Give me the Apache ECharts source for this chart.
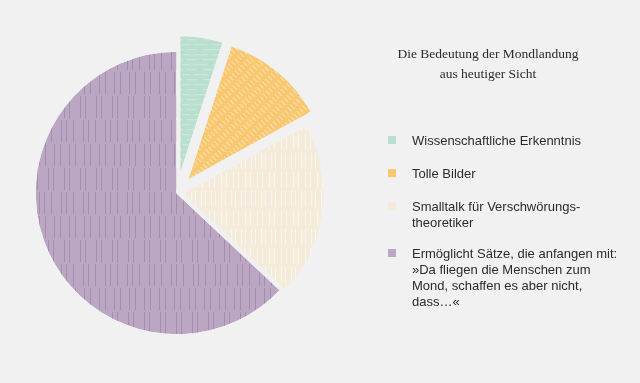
<!DOCTYPE html>
<html>
<head>
<meta charset="utf-8">
<script src="https://cdn.jsdelivr.net/npm/echarts@6/dist/echarts.min.js"></script>
<style>
html,body{margin:0;padding:0;background:#f1f1f1;}
#c{width:640px;height:383px;}
</style>
</head>
<body>
<div id="c"></div>
<script>
var titleLines = ['Die Bedeutung der Mondlandung', 'aus heutiger Sicht'];
var categories = ['Wissenschaftliche Erkenntnis', 'Tolle Bilder', 'Smalltalk für Verschwörungs-\ntheoretiker', 'Ermöglicht Sätze, die anfangen mit:\n»Da fliegen die Menschen zum\nMond, schaffen es aber nicht,\ndass…«'];
var values = [5, 12, 20, 63];
var colors = ['#b9dfcf', '#f8c770', '#f4ebdb', '#bba7c3'];
// which drawing layer (explode distance) each slice belongs to
var layerOf = [0, 0, 1, 1];
var layerOffsets = [16, 5];
var layerSelected = [[true, true, false, false], [false, false, true, false]];

var decals = [
  {symbol:'rect', color:'rgba(255,255,255,0.35)', dashArrayX:[[20,4,10,6],[8,3,14,5]], dashArrayY:[1,4], rotation:0},
  {symbol:'rect', color:'rgba(255,255,255,0.45)', dashArrayX:[[6,3]], dashArrayY:[1,3], rotation:0.8},
  {symbol:'rect', color:'rgba(255,255,255,0.5)', dashArrayX:[[1,4,1,6],[1,5,1,3]], dashArrayY:[16,3], rotation:0},
  {symbol:'rect', color:'rgba(125,100,138,0.38)', dashArrayX:[[1,6,1,9,1,4],[1,8,1,5],[1,4,1,10]], dashArrayY:[22,2], rotation:0}
];

var chart = echarts.init(document.getElementById('c'), null, {renderer:'canvas'});

function layerData(L){
  return categories.map(function(n, i){
    var visible = layerOf[i] === L;
    var style = visible ? {color:colors[i], decal:decals[i], borderColor:'#f1f1f1', borderWidth:1.5}
                        : {color:'rgba(0,0,0,0)', borderWidth:0};
    return {name:n, value:values[i], selected:layerSelected[L][i], itemStyle:style};
  });
}

var graphics = [];
var legendTop = [133, 166, 199, 246];
categories.forEach(function(n, i){
  graphics.push({type:'rect', x:388, y:legendTop[i]+3, shape:{width:8,height:8}, style:{fill:colors[i]}});
  graphics.push({type:'text', x:412, y:legendTop[i], style:{text:n, fill:'#2b2b2b', font:'13px "Liberation Sans", Arial, sans-serif', lineHeight:16}});
});
graphics.push({type:'text', x:488, y:44, style:{text:titleLines.join('\n'), fill:'#2b2b2b', font:'13.5px "Liberation Serif", "DejaVu Serif", serif', lineHeight:20, align:'center', textAlign:'center'}});

var seriesList = layerOffsets.map(function(off, L){
  return {
    type:'pie',
    center:[177,193],
    radius:[0,142],
    startAngle:90,
    clockwise:true,
    selectedMode:'multiple',
    selectedOffset:off,
    label:{show:false},
    labelLine:{show:false},
    emphasis:{disabled:true},
    silent:true,
    data:layerData(L)
  };
});

chart.setOption({
  backgroundColor:'#f1f1f1',
  animation:false,
  series:seriesList,
  graphic:graphics
});
</script>
</body>
</html>
